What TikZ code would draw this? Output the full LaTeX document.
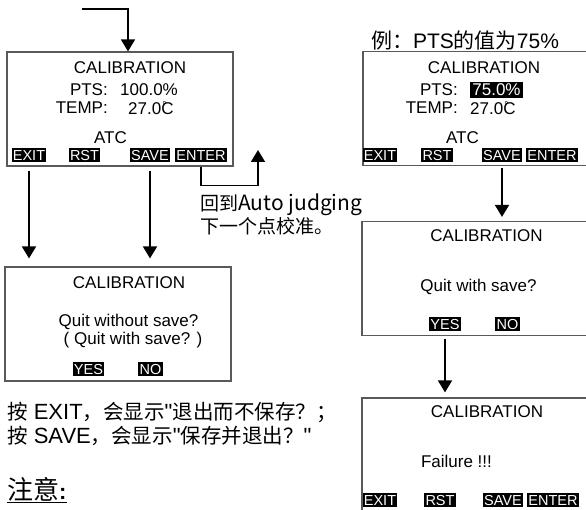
\documentclass[tikz,border=0pt]{standalone}
\usepackage{fontspec}
\setmainfont{Liberation Sans}[Ligatures=TeXOff]
\newfontfamily\cjk{Noto Sans CJK SC}
\usetikzlibrary{arrows.meta,positioning,calc}

\newcommand{\degc}{\rlap{\kern1pt\raisebox{6.5pt}{\fontsize{10}{10}\selectfont\char"00B0}}C}
\newcommand{\zhs}[1]{{\cjk\fontsize{20.5}{24}\selectfont#1}}

\begin{document}
\begin{tikzpicture}[x=1pt,y=-1pt,
  screen/.style={draw=black!65,line width=1.2pt,minimum width=226pt,minimum height=114pt,inner sep=0pt},
  lcd/.style={font=\fontsize{17}{20}\selectfont,inner sep=0pt},
  key/.style={fill=black,text=white,font=\fontsize{14.5}{14}\selectfont,inner xsep=1.2pt,inner ysep=2pt,text height=10.5pt,text depth=0pt},
  note/.style={font=\fontsize{22}{26}\selectfont,inner sep=0pt,anchor=west},
  flow/.style={line width=1.8pt,-{Triangle[length=12pt,width=14pt]}}]
  \useasboundingbox (0,0) rectangle (586,510);
  \clip (0,0) rectangle (586,510);

  % screen at the start of calibration
  \node[screen] (calA) at (120,109) {};
  \node[lcd] (titA) at (130,68) {CALIBRATION};
  \node[lcd,anchor=east] (ptsA) at (108,90) {PTS:};
  \node[lcd,anchor=west] (valA) at (120,90) {100.0\%};
  \node[lcd,anchor=east] (tmpA) at (108,108) {TEMP:};
  \node[lcd,anchor=west] (degA) at (128,108) {27.0\degc};
  \node[lcd] (atcA) at (110.5,138) {ATC};
  \node[key] (exitA) at (29,155) {EXIT};
  \node[key] (rstA) at (84.5,155) {RST};
  \node[key] (saveA) at (150,155) {SAVE};
  \node[key] (enterA) at (201,155) {ENTER};

  % quit question
  \node[screen] (calB) at (118,324) {};
  \node[lcd] (titB) at (129,283) {CALIBRATION};
  \node[lcd] (askB) at (128.5,322) {Quit without save?};
  \node[lcd] (altB) at (133,340) {( Quit with save? )};
  \node[key] (yesB) at (88.5,369) {YES};
  \node[key] (noB) at (150.5,369) {NO};

  % example on the right
  \node[lcd,font=\fontsize{21}{24}\selectfont] (exC) at (465,40) {{\cjk 例：}PTS{\cjk 的值为}75\%};
  \node[screen] (calC) at (476,108.5) {};
  \node[lcd] (titC) at (484,68) {CALIBRATION};
  \node[lcd,anchor=east] (ptsC) at (458,90) {PTS:};
  \node[lcd,fill=black,text=white,inner xsep=2.5pt,inner ysep=1.5pt] (valC) at (496.5,90) {75.0\%};
  \node[lcd,anchor=east] (tmpC) at (458,108) {TEMP:};
  \node[lcd,anchor=west] (degC) at (470,108) {27.0\degc};
  \node[lcd] (atcC) at (462.5,138) {ATC};
  \node[key] (exitC) at (380,155) {EXIT};
  \node[key] (rstC) at (437,155) {RST};
  \node[key] (saveC) at (502,155) {SAVE};
  \node[key] (enterC) at (552,155) {ENTER};

  \node[screen] (calD) at (475,278.5) {};
  \node[lcd] (titD) at (486.5,236) {CALIBRATION};
  \node[lcd] (askD) at (478.5,287) {Quit with save?};
  \node[key] (yesD) at (445,324) {YES};
  \node[key] (noD) at (507.5,324) {NO};

  \node[screen] (calE) at (475,455) {};
  \node[lcd] (titE) at (487,412) {CALIBRATION};
  \node[lcd] (failE) at (456.5,461) {Failure !!!};
  \node[key] (exitE) at (380,500) {EXIT};
  \node[key] (rstE) at (440,500) {RST};
  \node[key] (saveE) at (503,500) {SAVE};
  \node[key] (enterE) at (553,500) {ENTER};

  % notes
  \node[note,font=\fontsize{21}{24}\selectfont] (backL) at (200,205) {{\cjk\fontsize{19}{24}\selectfont 回到}{\cjk Auto judging}};
  \node[note] (backM) at (200,226) {{\cjk\fontsize{19}{24}\selectfont 下一个点校准。}};
  \node[note] (exitN) at (7,412) {\zhs{按} EXIT\zhs{，会显示}"\zhs{退出而不保存？；}};
  \node[note] (saveN) at (7,436) {\zhs{按} SAVE\zhs{，会显示}"\zhs{保存并退出？}"};
  \node[note] (warnN) at (7,490) {\underline{{\cjk\fontsize{26}{30}\selectfont 注意}\textbf{:}}};

  % arrows
  \coordinate (entry) at (82,9);
  \coordinate (back) at (258,150);
  \draw[flow] (entry) -| ($(titA |- calA.north)+(-2,0)$);
  \draw[flow] ([yshift=-4pt]exitA |- calA.south) -- ([yshift=8pt]exitA |- calB.north);
  \draw[flow] ([yshift=-4pt]saveA |- calA.south) -- ([yshift=8pt]saveA |- calB.north);
  \draw[flow] (enterA |- calA.south) -- ++(0,19) -| (back);
  \draw[flow] ([yshift=-2pt]saveC |- calC.south) -- ([yshift=4pt]saveC |- calD.north);
  \draw[flow] ([yshift=-3pt]yesD |- calD.south) -- ([yshift=5pt]yesD |- calE.north);
\end{tikzpicture}
\end{document}
